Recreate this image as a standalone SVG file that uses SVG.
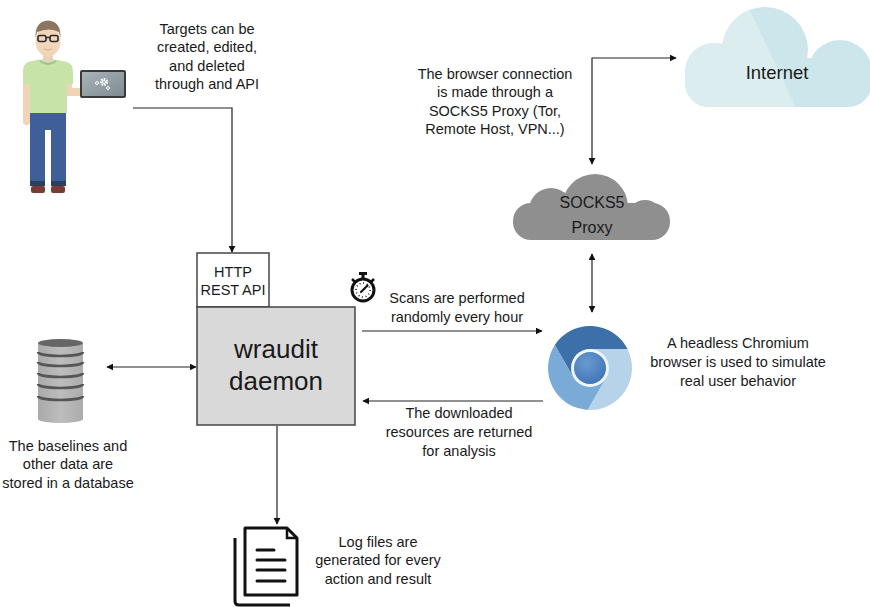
<svg xmlns="http://www.w3.org/2000/svg" width="870" height="607" viewBox="0 0 870 607">
  <style>
    .lbl { font-family: "Liberation Sans", Arial, sans-serif; font-size: 14.5px; fill: #1a1a1a; text-anchor: middle; }
    .big { font-family: "Liberation Sans", Arial, sans-serif; font-size: 26px; fill: #1a1a1a; text-anchor: middle; }
    .cloudtxt { font-family: "Liberation Sans", Arial, sans-serif; font-size: 16px; fill: #1a1a1a; text-anchor: middle; }
    .inet { font-family: "Liberation Sans", Arial, sans-serif; font-size: 18.5px; fill: #1a1a1a; text-anchor: middle; }
    .edge { fill: none; stroke: #222; stroke-width: 1.2; }
    .box { stroke: #444; stroke-width: 1.5; }
  </style>
  <defs>
    <marker id="arrow" viewBox="0 0 10 10" refX="9" refY="5" markerWidth="7" markerHeight="7" markerUnits="userSpaceOnUse" orient="auto-start-reverse">
      <path d="M0,0 L10,5 L0,10 Z" fill="#111"/>
    </marker>
    <clipPath id="inetLeft">
      <polygon points="600,0 745,0 797,110 600,110"/>
    </clipPath>
    <linearGradient id="screen" x1="0" y1="0" x2="1" y2="1">
      <stop offset="0" stop-color="#a9b4b8"/>
      <stop offset="1" stop-color="#7e8b90"/>
    </linearGradient>
    <linearGradient id="dbBody" x1="0" y1="0" x2="1" y2="0">
      <stop offset="0" stop-color="#a9a9a9"/>
      <stop offset="0.5" stop-color="#bdbdbd"/>
      <stop offset="1" stop-color="#acacac"/>
    </linearGradient>
    <radialGradient id="chromeCore" cx="0.4" cy="0.35" r="0.7">
      <stop offset="0" stop-color="#6b9ad0"/>
      <stop offset="1" stop-color="#3f74b5"/>
    </radialGradient>
  </defs>

  <rect width="870" height="607" fill="#ffffff"/>

  <!-- Connectors -->
  <g id="connectors">
    <polyline class="edge" points="133,108 232,108 232,252" marker-end="url(#arrow)"/>
    <line class="edge" x1="362" y1="331" x2="542" y2="331" marker-end="url(#arrow)"/>
    <line class="edge" x1="543" y1="401" x2="363" y2="401" marker-end="url(#arrow)"/>
    <line class="edge" x1="107" y1="367" x2="196" y2="367" marker-start="url(#arrow)" marker-end="url(#arrow)"/>
    <line class="edge" x1="277" y1="426" x2="277" y2="524" marker-end="url(#arrow)"/>
    <line class="edge" x1="592" y1="254" x2="592" y2="312" marker-start="url(#arrow)" marker-end="url(#arrow)"/>
    <polyline class="edge" points="592,164 592,58 676,58" marker-start="url(#arrow)" marker-end="url(#arrow)"/>
  </g>

  <!-- User with laptop -->
  <g id="user">
    <!-- shoes -->
    <rect x="31" y="186" width="14" height="7" rx="2" fill="#7b3a33"/>
    <rect x="51" y="186" width="14" height="7" rx="2" fill="#7b3a33"/>
    <!-- pants -->
    <path d="M30,112 H66 V182 H51 V130 H45 V182 H30 Z" fill="#3e5f97"/>
    <rect x="30" y="181" width="15" height="5" fill="#2c3f5f"/>
    <rect x="51" y="181" width="15" height="5" fill="#2c3f5f"/>
    <!-- left arm -->
    <rect x="23" y="80" width="7" height="45" rx="3" fill="#efd4b8"/>
    <!-- right arm towards laptop -->
    <path d="M66,78 H72 V88 H82 V96 H66 Z" fill="#efd4b8"/>
    <!-- shirt -->
    <path d="M28,62 Q47,56 67,62 Q73,64 73,72 V84 H67 V113 H30 V84 H23 V72 Q23,64 28,62 Z" fill="#c7e3a8"/>
    <path d="M40,61 Q48,67 56,61" fill="none" stroke="#8fc79a" stroke-width="2"/>
    <!-- neck and head -->
    <rect x="43" y="54" width="10" height="8" fill="#ecd0b3"/>
    <ellipse cx="48" cy="41" rx="12.5" ry="15.5" fill="#f1d6bb"/>
    <path d="M35.5,38 Q35,21 48,20.5 Q61,21 60.5,38 L59,32 Q50,27 37,32 Z" fill="#8d7660"/>
    <!-- glasses -->
    <rect x="38" y="35.5" width="8" height="6" rx="2" fill="none" stroke="#2a2a2a" stroke-width="1.6"/>
    <rect x="50" y="35.5" width="8" height="6" rx="2" fill="none" stroke="#2a2a2a" stroke-width="1.6"/>
    <line x1="46" y1="37.5" x2="50" y2="37.5" stroke="#2a2a2a" stroke-width="1.4"/>
    <path d="M44,49 Q48,51 52,49" fill="none" stroke="#d7a98f" stroke-width="1"/>
    <!-- laptop -->
    <rect x="80" y="70" width="46" height="28" rx="2" fill="#3b3b3b"/>
    <rect x="82" y="72" width="42" height="24" fill="url(#screen)"/>
    <g fill="none" stroke="#ffffff">
      <circle cx="104" cy="82" r="3" stroke-width="2.2" stroke-dasharray="1.6 1.1"/>
      <circle cx="104" cy="82" r="1.5" stroke-width="1"/>
      <circle cx="97" cy="83" r="1.5" stroke-width="1"/>
      <circle cx="108" cy="88" r="1.4" stroke-width="1"/>
    </g>
  </g>

  <!-- Targets text -->
  <g id="label-targets">
    <text class="lbl" x="207" y="34">Targets can be</text>
    <text class="lbl" x="207" y="52">created, edited,</text>
    <text class="lbl" x="207" y="71">and deleted</text>
    <text class="lbl" x="207" y="89">through and API</text>
  </g>

  <!-- REST API box -->
  <g id="rest-api">
    <rect class="box" x="197" y="253" width="72" height="54" fill="#ffffff"/>
    <text class="lbl" x="233" y="277">HTTP</text>
    <text class="lbl" x="233" y="295">REST API</text>
  </g>

  <!-- Daemon -->
  <g id="daemon">
    <rect class="box" x="197" y="307" width="158" height="118" fill="#d9d9d9"/>
    <text class="big" x="276" y="358">wraudit</text>
    <text class="big" x="276" y="390">daemon</text>
  </g>

  <!-- Stopwatch -->
  <g id="stopwatch">
    <rect x="359" y="272" width="8" height="3" fill="#111"/>
    <rect x="361.5" y="274" width="3" height="4" fill="#111"/>
    <line x1="352" y1="279" x2="355" y2="282" stroke="#111" stroke-width="2.5"/>
    <line x1="374" y1="279" x2="371" y2="282" stroke="#111" stroke-width="2.5"/>
    <circle cx="363" cy="290" r="11" fill="#ffffff" stroke="#111" stroke-width="3"/>
    <circle cx="363" cy="290" r="7" fill="none" stroke="#111" stroke-width="1.5" stroke-dasharray="1 2.66"/>
    <line x1="361" y1="292" x2="367.5" y2="285.5" stroke="#111" stroke-width="2.2" stroke-linecap="round"/>
  </g>

  <!-- Scan labels -->
  <g id="label-scans">
    <text class="lbl" x="457" y="303">Scans are performed</text>
    <text class="lbl" x="457" y="322">randomly every hour</text>
  </g>
  <g id="label-returned">
    <text class="lbl" x="459" y="418">The downloaded</text>
    <text class="lbl" x="459" y="437">resources are returned</text>
    <text class="lbl" x="459" y="456">for analysis</text>
  </g>

  <!-- Database -->
  <g id="database">
    <path d="M38,343 V419 A22.5,4 0 0 0 83,419 V343 Z" fill="url(#dbBody)"/>
    <ellipse cx="60.5" cy="343" rx="22.5" ry="4" fill="#666666"/>
    <g fill="none" stroke="#555555" stroke-width="2.5">
      <path d="M38,352 A22.5,4 0 0 0 83,352"/>
      <path d="M38,362 A22.5,4 0 0 0 83,362"/>
      <path d="M38,373 A22.5,4 0 0 0 83,373"/>
      <path d="M38,384 A22.5,4 0 0 0 83,384"/>
      <path d="M38,396 A22.5,4 0 0 0 83,396"/>
    </g>
  </g>
  <g id="label-database">
    <text class="lbl" x="68" y="451">The baselines and</text>
    <text class="lbl" x="68" y="469">other data are</text>
    <text class="lbl" x="68" y="488">stored in a database</text>
  </g>

  <!-- Log files -->
  <g id="logfiles">
    <path d="M235,538 V601 Q235,605 239,605 H290" fill="none" stroke="#111" stroke-width="3"/>
    <path d="M245,528 H287 L297,538 V595 H245 Z" fill="#ffffff" stroke="#111" stroke-width="3" stroke-linejoin="round"/>
    <path d="M287,528 V538 H297" fill="none" stroke="#111" stroke-width="2.5"/>
    <g stroke="#111" stroke-width="3" stroke-linecap="round">
      <line x1="257" y1="550" x2="274" y2="550"/>
      <line x1="257" y1="560" x2="285" y2="560"/>
      <line x1="257" y1="570" x2="285" y2="570"/>
      <line x1="257" y1="581" x2="285" y2="581"/>
    </g>
  </g>
  <g id="label-logs">
    <text class="lbl" x="378" y="547">Log files are</text>
    <text class="lbl" x="378" y="565">generated for every</text>
    <text class="lbl" x="378" y="584">action and result</text>
  </g>

  <!-- Chromium browser -->
  <g id="chromium">
    <path d="M590,349 L627.5,349 A42,42 0 0 0 554.8,345.1 L573.5,377.5 Z" fill="#3d6fa8"/>
    <path d="M573.5,377.5 L554.8,345.1 A42,42 0 0 0 587.7,409.9 L606.5,377.5 Z" fill="#79abd6"/>
    <path d="M606.5,377.5 L587.7,409.9 A42,42 0 0 0 627.5,349 L590,349 Z" fill="#b7d3ea"/>
    <circle cx="590" cy="368" r="19" fill="#eef4fa"/>
    <circle cx="590" cy="368" r="16" fill="url(#chromeCore)"/>
  </g>
  <g id="label-chromium">
    <text class="lbl" x="738" y="348">A headless Chromium</text>
    <text class="lbl" x="738" y="367">browser is used to simulate</text>
    <text class="lbl" x="738" y="386">real user behavior</text>
  </g>

  <!-- SOCKS5 proxy cloud -->
  <g id="socks5-proxy">
    <g fill="#8f8f8f">
      <rect x="513" y="203" width="157" height="37" rx="18"/>
      <circle cx="551" cy="210" r="22"/>
      <circle cx="595" cy="207" r="33"/>
      <circle cx="645" cy="218" r="18"/>
    </g>
    <text class="cloudtxt" x="592" y="208">SOCKS5</text>
    <text class="cloudtxt" x="592" y="233">Proxy</text>
  </g>
  <g id="label-proxy">
    <text class="lbl" x="495" y="79">The browser connection</text>
    <text class="lbl" x="495" y="97">is made through a</text>
    <text class="lbl" x="495" y="116">SOCKS5 Proxy (Tor,</text>
    <text class="lbl" x="495" y="134">Remote Host, VPN...)</text>
  </g>

  <!-- Internet cloud -->
  <g id="internet">
    <g fill="#cde6eb">
      <rect x="685" y="58" width="187" height="49" rx="24"/>
      <circle cx="714" cy="72" r="29"/>
      <circle cx="765" cy="50" r="43"/>
      <circle cx="840" cy="72" r="32"/>
    </g>
    <g fill="#dcedf0" clip-path="url(#inetLeft)">
      <rect x="685" y="58" width="187" height="49" rx="24"/>
      <circle cx="714" cy="72" r="29"/>
      <circle cx="765" cy="50" r="43"/>
    </g>
    <text class="inet" x="777" y="79">Internet</text>
  </g>
</svg>
